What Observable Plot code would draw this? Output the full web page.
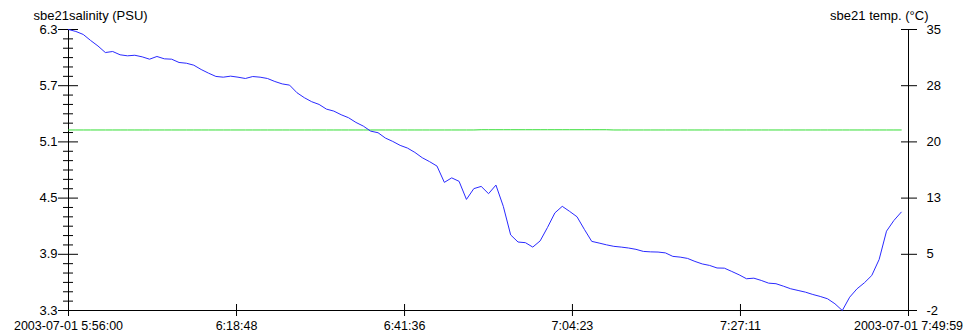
<!DOCTYPE html>
<html><head><meta charset="utf-8">
<script src="https://cdn.jsdelivr.net/npm/d3@7"></script>
<script src="https://cdn.jsdelivr.net/npm/@observablehq/plot@0.6"></script>
<style>body{margin:0;background:#fff}</style>
</head><body><div id="chart"></div>
<script>
// Sampling: one reading per minute from the start time
const startTime = "2003-07-01T05:56:00Z";
const endTime = "2003-07-01T07:49:59Z";
const sampleStepSeconds = 60;

const salinity = [
  6.300, 6.279, 6.247, 6.183, 6.124, 6.054, 6.065, 6.030, 6.019, 6.025,
  6.008, 5.983, 6.012, 5.987, 5.983, 5.948, 5.940, 5.919, 5.873, 5.834,
  5.799, 5.791, 5.802, 5.791, 5.777, 5.798, 5.791, 5.777, 5.745, 5.719,
  5.706, 5.625, 5.572, 5.529, 5.500, 5.450, 5.429, 5.390, 5.358, 5.308,
  5.269, 5.215, 5.198, 5.141, 5.105, 5.063, 5.034, 4.988, 4.931, 4.889,
  4.842, 4.668, 4.716, 4.679, 4.486, 4.601, 4.625, 4.547, 4.639, 4.412,
  4.107, 4.031, 4.024, 3.977, 4.043, 4.187, 4.342, 4.412, 4.358, 4.301,
  4.166, 4.038, 4.020, 4.001, 3.985, 3.977, 3.967, 3.953, 3.931, 3.926,
  3.924, 3.915, 3.878, 3.870, 3.856, 3.824, 3.797, 3.781, 3.754, 3.752,
  3.717, 3.681, 3.639, 3.645, 3.621, 3.592, 3.586, 3.560, 3.532, 3.514,
  3.496, 3.471, 3.450, 3.425, 3.372, 3.300, 3.442, 3.532, 3.596, 3.674,
  3.845, 4.147, 4.261, 4.350
];

const temperature = [
  21.77, 21.77, 21.77, 21.77, 21.77, 21.77, 21.77, 21.77, 21.77, 21.77,
  21.77, 21.77, 21.77, 21.77, 21.77, 21.77, 21.77, 21.77, 21.77, 21.77,
  21.77, 21.77, 21.77, 21.77, 21.77, 21.77, 21.77, 21.77, 21.77, 21.77,
  21.77, 21.77, 21.77, 21.77, 21.77, 21.77, 21.77, 21.77, 21.77, 21.77,
  21.77, 21.77, 21.77, 21.77, 21.77, 21.77, 21.77, 21.77, 21.77, 21.77,
  21.77, 21.77, 21.77, 21.77, 21.77, 21.77, 21.80, 21.80, 21.80, 21.80,
  21.80, 21.80, 21.80, 21.80, 21.80, 21.80, 21.80, 21.80, 21.80, 21.80,
  21.80, 21.80, 21.80, 21.80, 21.77, 21.77, 21.77, 21.77, 21.77, 21.77,
  21.77, 21.77, 21.77, 21.77, 21.77, 21.77, 21.77, 21.77, 21.77, 21.77,
  21.77, 21.77, 21.77, 21.77, 21.77, 21.77, 21.77, 21.77, 21.77, 21.77,
  21.77, 21.77, 21.77, 21.77, 21.77, 21.77, 21.77, 21.77, 21.77, 21.77,
  21.77, 21.77, 21.77, 21.77
];

const salDomain = [3.3, 6.3];
const tempDomain = [-2, 35];
const salTicks = [3.3, 3.9, 4.5, 5.1, 5.7, 6.3];
const salMinorTicks = [3.4, 3.5, 3.6, 3.7, 3.8, 4.0, 4.1, 4.2, 4.3, 4.4,
  4.6, 4.7, 4.8, 4.9, 5.0, 5.2, 5.3, 5.4, 5.5, 5.6, 5.8, 5.9, 6.0, 6.1, 6.2];
const tempTickLabels = ["-2", "5", "13", "20", "28", "35"];
const xTickTimes = ["2003-07-01T05:56:00Z", "2003-07-01T06:18:48Z", "2003-07-01T06:41:36Z",
  "2003-07-01T07:04:23Z", "2003-07-01T07:27:11Z", "2003-07-01T07:49:59Z"];
const xTickLabels = ["2003-07-01 5:56:00", "6:18:48", "6:41:36", "7:04:23", "7:27:11", "2003-07-01 7:49:59"];
const salLabel = "sbe21salinity (PSU)";
const tempLabel = "sbe21 temp. (°C)";

const t0 = new Date(startTime);
const t1 = new Date(endTime);
const timeAt = i => new Date(t0.getTime() + i * sampleStepSeconds * 1000);
// map temperature onto the salinity (left) scale for the right-hand axis
const tempToSal = t => salDomain[0] + (t - tempDomain[0]) / (tempDomain[1] - tempDomain[0]) * (salDomain[1] - salDomain[0]);

const salData = salinity.map((v, i) => ({time: timeAt(i), value: v}));
const tempData = temperature.map((v, i) => ({time: timeAt(i), value: tempToSal(v)}));
const xTicks = xTickTimes.map(s => new Date(s));
const xLabelFor = d => xTickLabels[xTicks.findIndex(t => t.getTime() === d.getTime())];
const rightLabelFor = d => tempTickLabels[salTicks.indexOf(d)];

const chart = Plot.plot({
  width: 968,
  height: 335,
  marginLeft: 68,
  marginRight: 60,
  marginTop: 29,
  marginBottom: 25,
  style: {fontFamily: "'Liberation Sans', Arial, sans-serif", fontSize: "13px", color: "#000", background: "#fff"},
  x: {type: "time", domain: [t0, t1], label: null},
  y: {domain: salDomain, label: null},
  marks: [
    Plot.ruleX([t0, t1], {stroke: "#000"}),
    Plot.ruleY([salDomain[0]], {stroke: "#000"}),
    Plot.axisY(salMinorTicks, {anchor: "left", tickSize: 10, dx: 5, fill: "none", label: null}),
    Plot.axisY(salTicks, {anchor: "left", tickSize: 20, dx: 10, tickPadding: 1, tickFormat: d => d.toFixed(1), label: null}),
    Plot.axisY(salTicks, {anchor: "right", tickSize: 16, dx: -8, tickPadding: 10, tickFormat: rightLabelFor, label: null}),
    Plot.axisX(xTicks, {anchor: "bottom", tickSize: 12, dy: -6, tickPadding: 4.5, fontSize: 12.5, tickFormat: xLabelFor, label: null}),
    Plot.text([salLabel], {frameAnchor: "top-left", dx: -35, dy: -9.5, textAnchor: "start", lineAnchor: "bottom", fill: "#000"}),
    Plot.text([tempLabel], {frameAnchor: "top-right", dx: 20, dy: -9.5, textAnchor: "end", lineAnchor: "bottom", fill: "#000"}),
    Plot.line(tempData, {x: "time", y: "value", stroke: "#33dd33", strokeWidth: 1}),
    Plot.line(salData, {x: "time", y: "value", stroke: "#2a2aff", strokeWidth: 1})
  ]
});
document.getElementById("chart").append(chart);
</script>
</body></html>
